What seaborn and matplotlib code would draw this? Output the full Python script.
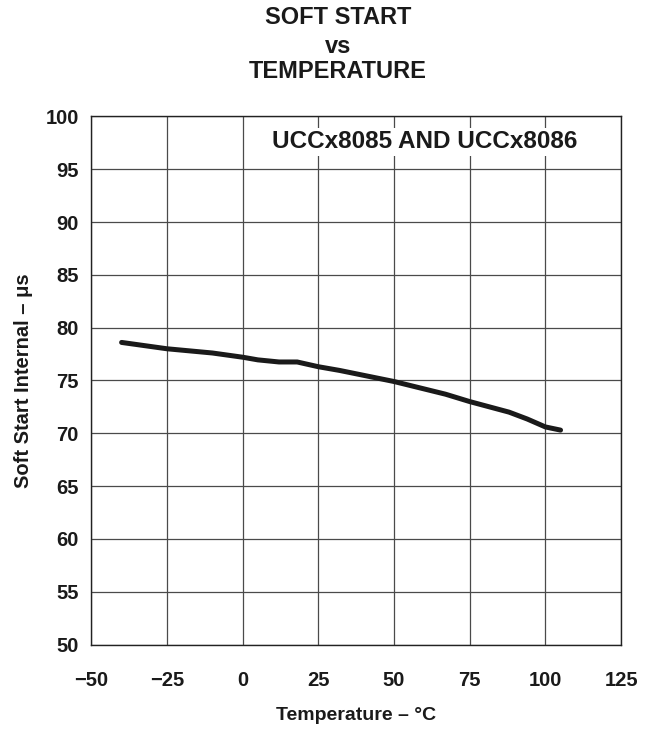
import matplotlib
matplotlib.use("Agg")
import matplotlib.pyplot as plt
import seaborn as sns
import numpy as np
import pandas as pd

# data
temperature = [-40, -25, -10, 0, 5, 12, 18, 25, 32, 50, 67, 75, 88, 94, 100, 105]
soft_start = [78.6, 78.0, 77.6, 77.2, 76.95, 76.75, 76.75, 76.3, 75.95, 74.9, 73.7, 73.0, 72.0, 71.35, 70.6, 70.3]
x_ticks = [-50, -25, 0, 25, 50, 75, 100, 125]
x_labels = ["\u221250", "\u221225", "0", "25", "50", "75", "100", "125"]
y_ticks = [50, 55, 60, 65, 70, 75, 80, 85, 90, 95, 100]

sns.set_style("white")
plt.rcParams['font.family'] = ['Liberation Sans', 'DejaVu Sans']
plt.rcParams['font.weight'] = 'bold'

df = pd.DataFrame({"temp": temperature, "ss": soft_start})

fig = plt.figure(figsize=(6.5, 7.32), dpi=100)
ax = fig.add_axes([0.1405, 0.1195, 0.815, 0.7215])

sns.lineplot(data=df, x="temp", y="ss", ax=ax, color="#1a1a1a", linewidth=3.6)

ax.set_xlim(-50, 125)
ax.set_ylim(50, 100)
ax.set_xticks(x_ticks)
ax.set_xticklabels(x_labels, fontsize=14.5, fontweight='bold', color="#1a1a1a")
ax.set_yticks(y_ticks)
ax.set_yticklabels([str(v) for v in y_ticks], fontsize=14.5, fontweight='bold', color="#1a1a1a")
ax.tick_params(axis='x', length=0, pad=19)
ax.tick_params(axis='y', length=0, pad=9)
ax.grid(True, color="#4a4a4a", linewidth=0.9)
for s in ax.spines.values():
    s.set_color("#222222")
    s.set_linewidth(1.0)

ax.set_xlabel("Temperature \u2013 \u00b0C", fontsize=14, fontweight='bold', labelpad=12, color="#1a1a1a")
ax.set_ylabel("Soft Start Internal \u2013 \u03bcs", fontsize=14.5, fontweight='bold', labelpad=9, color="#1a1a1a")

ax.text(0.629, 0.952, "UCCx8085 AND UCCx8086", transform=ax.transAxes,
        ha='center', va='center', fontsize=17.5, fontweight='bold', color="#1a1a1a",
        bbox=dict(facecolor='white', edgecolor='none', pad=2))

fig.text(0.52, 0.976, "SOFT START", ha='center', va='center', fontsize=17, fontweight='bold', color="#1a1a1a")
fig.text(0.52, 0.937, "vs", ha='center', va='center', fontsize=17, fontweight='bold', color="#1a1a1a")
fig.text(0.52, 0.903, "TEMPERATURE", ha='center', va='center', fontsize=17, fontweight='bold', color="#1a1a1a")

fig.savefig("out.png", dpi=100)
